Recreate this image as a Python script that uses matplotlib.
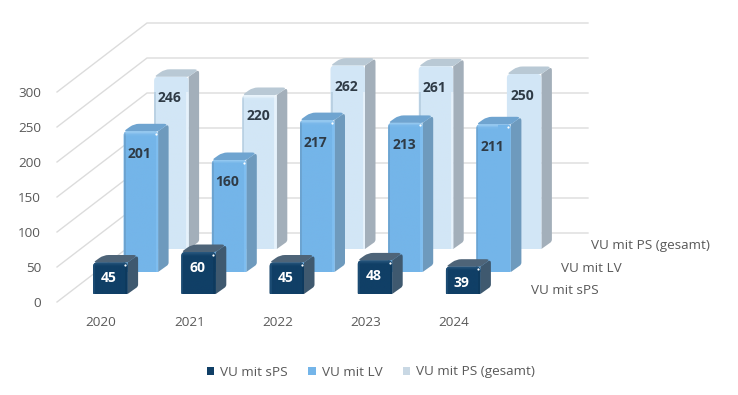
import numpy as np
import matplotlib
matplotlib.use("Agg")
import matplotlib.pyplot as plt
from matplotlib.patches import PathPatch, Patch
from matplotlib.path import Path
from matplotlib.colors import to_rgb

# ---- data ----
years = ["2020", "2021", "2022", "2023", "2024"]
series_names = ["VU mit sPS", "VU mit LV", "VU mit PS (gesamt)"]
vu_sps = [45, 60, 45, 48, 39]
vu_lv = [201, 160, 217, 213, 211]
vu_ps = [246, 220, 262, 261, 250]
y_ticks = [0, 50, 100, 150, 200, 250, 300]

# ---- layout (pixels) ----
W, H = 738, 395
PX_L, PX_R, PX_T, PX_B = 57, 498, 92, 302
FS = 9.7
plt.rcParams["font.family"] = ["Open Sans", "DejaVu Sans"]
fig = plt.figure(figsize=(W / 100, H / 100), dpi=100, facecolor="white")
ax = fig.add_axes([PX_L / W, (H - PX_B) / H, (PX_R - PX_L) / W, (PX_B - PX_T) / H])
ax.set_xlim(-0.5, 4.5)
ax.set_ylim(0, 300)
ax.patch.set_visible(False)
for s in ax.spines.values():
    s.set_visible(False)
ax.set_xticks(range(len(years)), years)
ax.set_yticks(y_ticks)
ax.tick_params(length=0, labelsize=FS, labelcolor="#595959")
ax.tick_params(axis="y", pad=11.5)
ax.tick_params(axis="x", pad=10)

ux = (PX_R - PX_L) / 5.0      # px per category
uy = (PX_B - PX_T) / 300.0    # px per value


def proj(cat_px, value, dx=0.0, dy=0.0):
    """front-plane category/value plus a pixel offset -> data coordinates"""
    return (cat_px + dx / ux, value + dy / uy)


def rounded(points, radii):
    verts, codes = [], []
    n = len(points)
    for i, p in enumerate(points):
        p = np.array(p, float)
        a = np.array(points[i - 1], float)
        b = np.array(points[(i + 1) % n], float)
        r = radii[i]
        if r <= 0:
            verts.append(tuple(p)); codes.append(Path.MOVETO if i == 0 else Path.LINETO)
            continue
        sc = np.array([ux, uy])
        d1 = (a - p) * sc; d2 = (b - p) * sc
        p1 = p + d1 / np.linalg.norm(d1) * r / sc
        p2 = p + d2 / np.linalg.norm(d2) * r / sc
        verts.append(tuple(p1)); codes.append(Path.MOVETO if i == 0 else Path.LINETO)
        verts += [tuple(p), tuple(p2)]; codes += [Path.CURVE3, Path.CURVE3]
    verts.append(verts[0]); codes.append(Path.CLOSEPOLY)
    return Path(verts, codes)


# ---- walls ----
GRID = "#dcdcdc"
WALL_DX, WALL_DY = 90, 69
BACK_R = 588
for t in y_ticks:
    p0 = proj(-0.5, t)
    p1 = proj(-0.5, t, WALL_DX, WALL_DY)
    p2 = proj(-0.5 + (BACK_R - PX_L - WALL_DX) / ux, t, WALL_DX, WALL_DY)
    ax.plot([p0[0], p1[0], p2[0]], [p0[1], p1[1], p2[1]], color=GRID, lw=1,
            clip_on=False, zorder=1, solid_joinstyle="miter")

# ---- bars ----
BAR_W, BAR_DX, BAR_DY = 34.5, 10.5, 7.5
BASE = -18.0  # bar left edge relative to category centre, px
SERIES_DX = [10, 40.5, 71]
SERIES_DY = [8, 30, 53]
STYLE = [
    dict(front="#103F66", left="#1B4B73", edge="#0E3A5E", hi="#2A5980", side="#3F596F", top="#4E6478",
         label="white", ldy=16, glint=True),
    dict(front="#74B5E9", left="#6CA3D0", edge="#7FBEF0", hi="#A5D2F4", side="#6E9ABD", top="#6FA4D0",
         label="#2F3B46", ldy=22.5, glint=True),
    dict(front="#D2E6F6", left="#B9D0E2", edge="#E6F2FB", hi="#F2F9FD", side="#A3AFBA", top="#B9C9D5",
         label="#2F3B46", ldy=21.5, glint=False),
]


def draw_bar(i, s, v, z):
    st = STYLE[s]
    sx, sy = SERIES_DX[s], SERIES_DY[s]
    xl = i + BASE / ux
    d = lambda dx, dy, val: proj(xl, val, sx + dx, sy + dy)
    # side face
    side = [d(BAR_W, 0, 0), d(BAR_W + BAR_DX, BAR_DY, 0), d(BAR_W + BAR_DX, BAR_DY, v), d(BAR_W, 0, v)]
    ax.add_patch(PathPatch(rounded(side, [0, 2, 4, 0]), fc=st["side"], ec="none", zorder=z, clip_on=False))
    # top face
    top = [d(0, 0, v), d(BAR_W, 0, v), d(BAR_W + BAR_DX, BAR_DY, v), d(BAR_DX, BAR_DY, v)]
    ax.add_patch(PathPatch(rounded(top, [3, 2, 5, 5]), fc=st["top"], ec="none", zorder=z, clip_on=False))
    # front face with a gradient image, clipped to a rounded outline
    front = [d(0, 0, 0), d(BAR_W, 0, 0), d(BAR_W, 0, v), d(0, 0, v)]
    clip = PathPatch(rounded(front, [1, 1, 4, 4]), fc=st["front"], ec="none", zorder=z + 0.1, clip_on=False)
    ax.add_patch(clip)
    nx, ny = 36, 64
    h_px = v * uy
    img = np.zeros((ny, nx, 3))
    f, l, e, h = [np.array(to_rgb(st[k])) for k in ("front", "left", "edge", "hi")]
    xs = (np.arange(nx) + 0.5) / nx * BAR_W
    ys = (np.arange(ny) + 0.5) / ny * h_px
    for yi, yy in enumerate(ys):
        for xi, xx in enumerate(xs):
            c = f.copy()
            if xx < 2.2:
                c = l
            elif xx > BAR_W - 2.5:
                c = e
            if yy < 4:
                t = (yy / 4.0)
                c = h * (1 - t) + c * t
            img[yi, xi] = c
    a, b = d(0, 0, 0), d(BAR_W, 0, v)
    im = ax.imshow(img, extent=(a[0], b[0], a[1], b[1]), origin="upper", aspect="auto",
                   zorder=z + 0.2, interpolation="bilinear")
    im.set_clip_path(clip)
    if st["glint"]:
        gx, gy = d(BAR_W - 2.5, -2.5, v)
        ax.plot([gx], [gy], marker="o", ms=1.6, color="white", mew=0, zorder=z + 0.3, clip_on=False)
    tx, ty = d(BAR_W / 2 - 1.5, -st["ldy"], v)
    ax.text(tx, ty, str(v), ha="center", va="center", fontsize=10, fontweight="bold",
            color=st["label"], zorder=z + 0.4, clip_on=False)


all_series = [vu_sps, vu_lv, vu_ps]
for s in (2, 1, 0):
    for i, v in enumerate(all_series[s]):
        draw_bar(i, s, v, 3 + (2 - s) * 2)

# ---- depth-axis labels ----
DEPTH_X = [531, 561, 591]
DEPTH_Y = [291, 269, 246]
for name, px, py in zip(series_names, DEPTH_X, DEPTH_Y):
    tx, ty = proj(-0.5, 0, px - PX_L, PX_B - py)
    ax.text(tx, ty, name, ha="left", va="center", fontsize=FS, color="#595959", clip_on=False)

# ---- legend ----
handles = [Patch(fc=STYLE[k]["front"] if k != 2 else "#C9D8E4", ec="none", label=series_names[k]) for k in range(3)]
ax.legend(handles=handles, ncol=3, frameon=False, loc="center",
          bbox_to_anchor=(371 / W, (H - 372) / H), bbox_transform=fig.transFigure,
          fontsize=FS, labelcolor="#595959", handlelength=0.55, handleheight=0.55,
          handletextpad=0.45, columnspacing=1.5, borderpad=0, borderaxespad=0)

ax.set_xlim(-0.5, 4.5)
ax.set_ylim(0, 300)
fig.savefig("out.png", dpi=100)
